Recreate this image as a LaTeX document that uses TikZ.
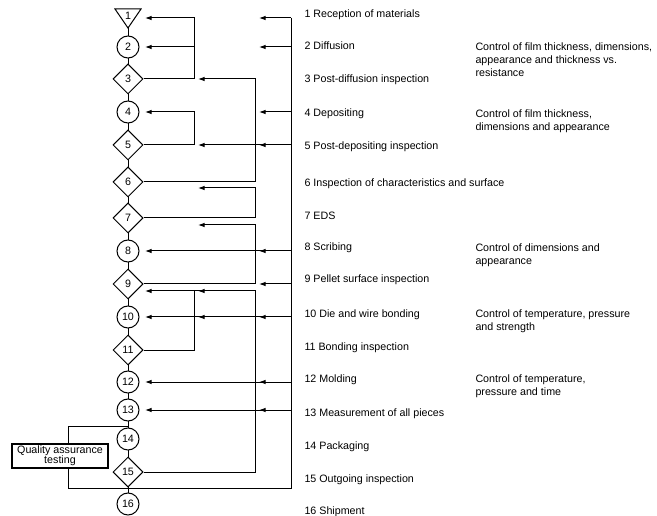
\documentclass[tikz,border=0pt]{standalone}
\usepackage{fontspec}
\setmainfont{Liberation Sans}
\usetikzlibrary{arrows.meta,shapes.geometric,backgrounds}

\begin{document}
\begin{tikzpicture}[x=1pt,y=-1pt,>={Latex[length=6.5pt,width=4.5pt]},line width=1pt,
  every node/.style={font=\fontsize{10.7}{13.3}\selectfont},
  op/.style={draw,circle,fill=white,minimum size=22,inner sep=0},
  chk/.style={draw,diamond,fill=white,minimum width=30,minimum height=30,inner sep=0},
  txt/.style={anchor=base west,inner sep=0},
  note/.style={anchor=north west,inner sep=0,align=left}]
\useasboundingbox (0,0) rectangle (657,516);

% process column
\draw[fill=white] (115,9) -- (141,9) -- (128,28) -- cycle;
\node        (n1)  at (128,16)  {1};
\node[op]    (n2)  at (128,47)  {2};
\node[chk]   (n3)  at (128,79)  {3};
\node[op]    (n4)  at (128,112) {4};
\node[chk]   (n5)  at (128,145) {5};
\node[chk]   (n6)  at (128,182) {6};
\node[chk]   (n7)  at (128,218) {7};
\node[op]    (n8)  at (128,251) {8};
\node[chk]   (n9)  at (128,284) {9};
\node[op]    (n10) at (128,317) {10};
\node[chk]   (n11) at (128,350) {11};
\node[op]    (n12) at (128,382) {12};
\node[op]    (n13) at (128,410) {13};
\node[op]    (n14) at (128,439) {14};
\node[chk]   (n15) at (128,472) {15};
\node[op]    (n16) at (128,504) {16};

\node[draw,line width=1.3pt,minimum width=96,minimum height=24,inner sep=0,align=center,
      font=\fontsize{10.7}{10}\selectfont] (qa) at (60,456) {Quality assurance\\testing};

% bus lines
\coordinate (xA)   at (194,0);
\coordinate (xB)   at (255,0);
\coordinate (xC)   at (291,0);
\coordinate (ent)  at (145,0);
\coordinate (qx)   at (68,0);
\coordinate (b1)   at (194,18);
\coordinate (b6)   at (255,188);
\coordinate (b7)   at (255,225);
\coordinate (b9)   at (255,291);
\coordinate (qin)  at (128,426);
\coordinate (qout) at (128,488);

% step names
\node[txt] (l1)  at (304,18)  {1 Reception of materials};
\node[txt] (l2)  at (304,50)  {2 Diffusion};
\node[txt] (l3)  at (304,83)  {3 Post-diffusion inspection};
\node[txt] (l4)  at (304,117) {4 Depositing};
\node[txt] (l5)  at (304,150) {5 Post-depositing inspection};
\node[txt] (l6)  at (304,187) {6 Inspection of characteristics and surface};
\node[txt] (l7)  at (304,220) {7 EDS};
\node[txt] (l8)  at (304,251) {8 Scribing};
\node[txt] (l9)  at (304,283) {9 Pellet surface inspection};
\node[txt] (l10) at (304,317) {10 Die and wire bonding};
\node[txt] (l11) at (304,350) {11 Bonding inspection};
\node[txt] (l12) at (304,382) {12 Molding};
\node[txt] (l13) at (304,416) {13 Measurement of all pieces};
\node[txt] (l14) at (304,449) {14 Packaging};
\node[txt] (l15) at (304,482) {15 Outgoing inspection};
\node[txt] (l16) at (304,514) {16 Shipment};

% controls
\node[note] (c2)  at (475,42)  {Control of film thickness, dimensions,\\appearance and thickness vs.\\resistance};
\node[note] (c4)  at (475,109) {Control of film thickness,\\dimensions and appearance};
\node[note] (c8)  at (475,243) {Control of dimensions and\\appearance};
\node[note] (c10) at (475,309) {Control of temperature, pressure\\and strength};
\node[note] (c12) at (475,374) {Control of temperature,\\pressure and time};

% inner loops
\draw[->] (n3.east) -| (b1) -- (ent |- b1);
\draw[->] (xA |- n2) -- (ent |- n2);
\draw[->] (n5.east) -| (xA |- n4) -- (ent |- n4);
\draw (n11.east) -| (xA |- b9);

% middle loops
\draw[->,shorten >=4] (n6.east) -| (xB |- n3) -- (xA |- n3);
\draw[->,shorten >=4] (n7.east) -| (b6) -- (xA |- b6);
\draw[->,shorten >=4] (n9.east) -| (b7) -- (xA |- b7);
\draw[->] (n15.east) -| (b9) -- (ent |- b9);
\draw[->,shorten >=4] (b9) -- (xA |- b9);

% outer loop
\draw (xC |- b1) -- (xC |- qout) -| (qa.south -| qx);
\draw (qa.north -| qx) |- (qin);
\draw[->,shorten >=4] (xC |- b1) -- (xB |- b1);
\draw[->,shorten >=4] (xC |- n2) -- (xB |- n2);
\draw[->,shorten >=4] (xC |- n4) -- (xB |- n4);
\draw[->,shorten >=4] (xC |- n5) -- (xB |- n5);
\draw[->,shorten >=4] (xC |- n5) -- (xA |- n5);
\draw[->,shorten >=4] (xC |- n8) -- (xB |- n8);
\draw[->] (xC |- n8) -- (ent |- n8);
\draw[->,shorten >=4] (xC |- n9) -- (xB |- n9);
\draw[->,shorten >=4] (xC |- n10) -- (xB |- n10);
\draw[->,shorten >=4] (xC |- n10) -- (xA |- n10);
\draw[->] (xC |- n10) -- (ent |- n10);
\draw[->,shorten >=4] (xC |- n12) -- (xB |- n12);
\draw[->] (xC |- n12) -- (ent |- n12);
\draw[->,shorten >=4] (xC |- n13) -- (xB |- n13);
\draw[->] (xC |- n13) -- (ent |- n13);

\begin{pgfonlayer}{background}
  \fill[white] (0,0) rectangle (657,516);
  \draw (n1) -- (n16);
\end{pgfonlayer}
\end{tikzpicture}
\end{document}
